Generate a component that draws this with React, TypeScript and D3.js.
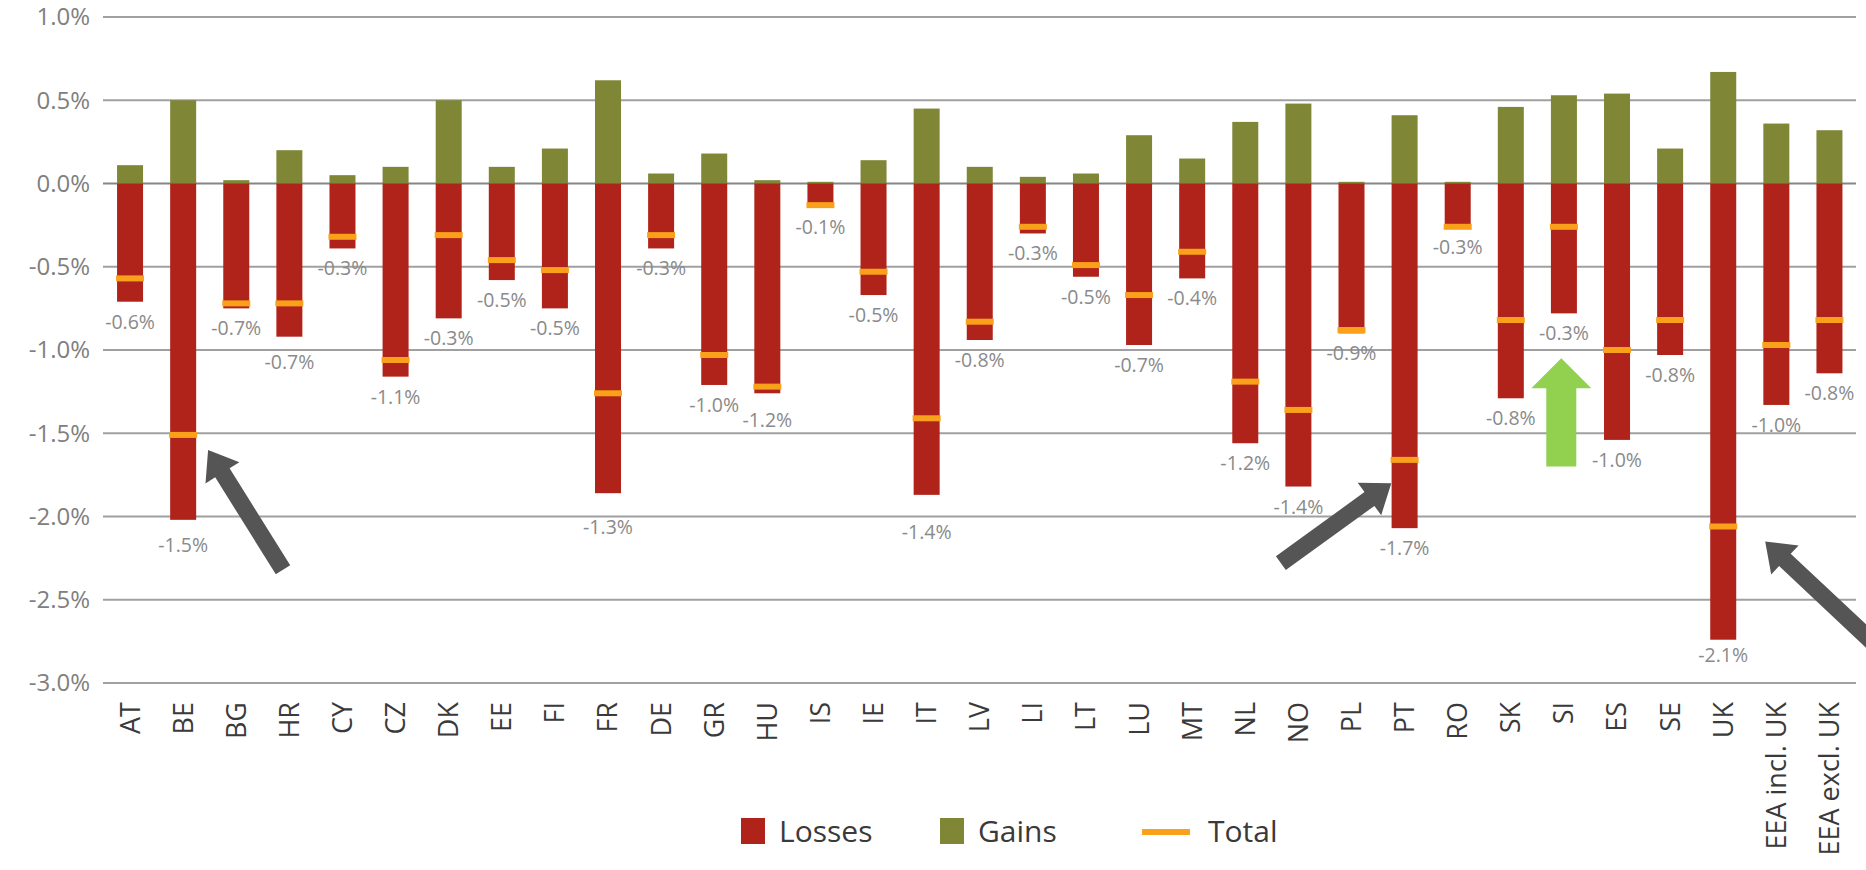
import React from "react";
import * as d3 from "d3";

const categories = ["AT","BE","BG","HR","CY","CZ","DK","EE","FI","FR","DE","GR","HU","IS","IE","IT","LV","LI","LT","LU","MT","NL","NO","PL","PT","RO","SK","SI","ES","SE","UK","EEA incl. UK","EEA excl. UK"];
const gains = [0.11,0.50,0.02,0.20,0.05,0.10,0.50,0.10,0.21,0.62,0.06,0.18,0.02,0.01,0.14,0.45,0.10,0.04,0.06,0.29,0.15,0.37,0.48,0.01,0.41,0.01,0.46,0.53,0.54,0.21,0.67,0.36,0.32];
const losses = [-0.71,-2.02,-0.75,-0.92,-0.39,-1.16,-0.81,-0.58,-0.75,-1.86,-0.39,-1.21,-1.26,-0.14,-0.67,-1.87,-0.94,-0.30,-0.56,-0.97,-0.57,-1.56,-1.82,-0.90,-2.07,-0.26,-1.29,-0.78,-1.54,-1.03,-2.74,-1.33,-1.14];
const totals = [-0.57,-1.51,-0.72,-0.72,-0.32,-1.06,-0.31,-0.46,-0.52,-1.26,-0.31,-1.03,-1.22,-0.13,-0.53,-1.41,-0.83,-0.26,-0.49,-0.67,-0.41,-1.19,-1.36,-0.88,-1.66,-0.26,-0.82,-0.26,-1.00,-0.82,-2.06,-0.97,-0.82];
const yTicks = [1.0,0.5,0.0,-0.5,-1.0,-1.5,-2.0,-2.5,-3.0];
const legendItems = ["Losses","Gains","Total"];

// annotation arrows: [tipIndex, tipValue, tailIndex, tailValue]
const grayArrows = [
  [1.47,-1.60,2.88,-2.32],
  [23.75,-1.80,21.67,-2.28],
  [30.79,-2.15,33.33,-2.91],
];
const greenArrow = [26.95,-1.05,26.95,-1.70];

const W = 1866, H = 870;
const RED = "#B0231A", GREEN = "#7F8636", ORANGE = "#F9A11B";
const FONT = "'Open Sans', 'Noto Sans', sans-serif";
// manual label placement nudges (px), as in the original layout
const labelNudge = { BE: 5, HR: 5, FR: 14, HU: 7, IT: 17, UK: -5 };

function arrowPath(tx, ty, sx, sy, w, hw, hl) {
  const dx = tx - sx, dy = ty - sy;
  const L = Math.hypot(dx, dy);
  const ux = dx / L, uy = dy / L;
  const nx = -uy, ny = ux;
  const bx = tx - ux * hl, by = ty - uy * hl;
  const pts = [
    [sx + nx * w / 2, sy + ny * w / 2],
    [bx + nx * w / 2, by + ny * w / 2],
    [bx + nx * hw / 2, by + ny * hw / 2],
    [tx, ty],
    [bx - nx * hw / 2, by - ny * hw / 2],
    [bx - nx * w / 2, by - ny * w / 2],
    [sx - nx * w / 2, sy - ny * w / 2],
  ];
  return "M" + pts.map(p => p[0].toFixed(1) + "," + p[1].toFixed(1)).join("L") + "Z";
}

export default function App() {
  const x = d3.scaleBand().domain(categories).range([103.5, 1856]).padding(0);
  const bw = 26;
  const y = d3.scaleLinear().domain([-3, 1]).range([683, 17]);
  const xi = d3.scaleLinear().domain([0, 1]).range([x(categories[0]) + x.bandwidth() / 2, x(categories[1]) + x.bandwidth() / 2]);
  const fmt = (v) => v.toFixed(1) + "%";

  return (
    <svg width={W} height={H} style={{ position: "absolute", left: 0, top: 0, background: "#fff" }} fontFamily={FONT}>
      {yTicks.map(t => (
        <g key={t}>
          <line x1={103} x2={1856} y1={y(t)} y2={y(t)} stroke={t === 0 ? "#858585" : "#a0a0a0"} strokeWidth={2} />
          <text x={90} y={y(t)} dy="0.35em" textAnchor="end" fontSize={24} fill="#808080">{fmt(t)}</text>
        </g>
      ))}
      {categories.map((c, i) => {
        const cx = x(c) + x.bandwidth() / 2;
        return (
          <g key={c}>
            <rect x={cx - bw / 2} y={y(gains[i])} width={bw} height={y(0) - y(gains[i])} fill={GREEN} />
            <rect x={cx - bw / 2} y={y(0)} width={bw} height={y(losses[i]) - y(0)} fill={RED} />
            <rect x={cx - bw / 2 - 1} y={y(totals[i]) - 3} width={bw + 2} height={6} fill={ORANGE} />
            <text x={cx} y={y(losses[i]) + 27 + (labelNudge[c] || 0)} textAnchor="middle" fontSize={19.5} fill="#8a8a8a">{fmt(totals[i])}</text>
            <text transform={`translate(${cx},${702}) rotate(-90)`} dy="0.35em" textAnchor="end" fontSize={27} fill="#3a3a3a">{c}</text>
          </g>
        );
      })}
      {grayArrows.map((a, k) => (
        <path key={k} d={arrowPath(xi(a[0]), y(a[1]), xi(a[2]), y(a[3]), 17, 40, 27)} fill="#555555" />
      ))}
      <path d={arrowPath(xi(greenArrow[0]), y(greenArrow[1]), xi(greenArrow[2]), y(greenArrow[3]), 30, 60, 30)} fill="#92D050" />
      <g>
        <rect x={741} y={818} width={24} height={26} fill={RED} />
        <text x={779} y={831} dy="0.35em" fontSize={30} fill="#3a3a3a">{legendItems[0]}</text>
        <rect x={940} y={818} width={24} height={26} fill={GREEN} />
        <text x={978} y={831} dy="0.35em" fontSize={30} fill="#3a3a3a">{legendItems[1]}</text>
        <rect x={1142} y={829} width={48} height={6} fill={ORANGE} />
        <text x={1208} y={831} dy="0.35em" fontSize={30} fill="#3a3a3a">{legendItems[2]}</text>
      </g>
    </svg>
  );
}
